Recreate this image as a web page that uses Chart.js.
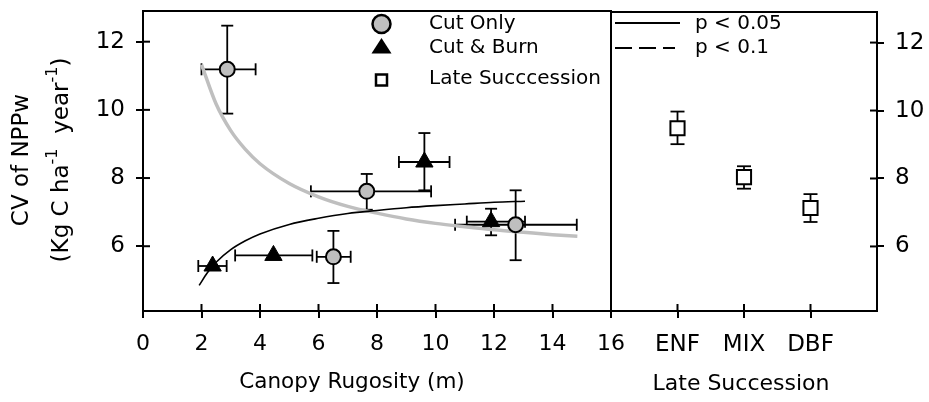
<!DOCTYPE html>
<html>
<head>
<meta charset="utf-8">
<script src="https://cdn.jsdelivr.net/npm/chart.js@4.4.1/dist/chart.umd.min.js"></script>
<style>
  body { margin: 0; background: #fff; }
  #wrap { position: relative; width: 929px; height: 402px; }
  canvas { position: absolute; left: 0; top: 0; }
</style>
</head>
<body>
<div id="wrap">
  <canvas id="rugChart" width="929" height="402"></canvas>
  <canvas id="lateChart" width="929" height="402"></canvas>
</div>
<script>
// ================= DATA =================

// Cut Only (grey circles)
const cutX = [2.88, 7.65, 6.51, 12.74];
const cutY = [11.19, 7.61, 5.69, 6.63];
const cutXLo = [2.0, 5.74, 5.94, 10.67];
const cutXHi = [3.85, 9.85, 7.10, 14.83];
const cutYLo = [9.89, 7.07, 4.92, 5.59];
const cutYHi = [12.47, 8.12, 6.45, 7.64];

// Cut & Burn (black triangles)
const burnX = [2.38, 4.46, 9.62, 11.90];
const burnY = [5.42, 5.73, 8.47, 6.72];
const burnXLo = [1.89, 3.15, 8.75, 11.07];
const burnXHi = [2.86, 5.79, 10.48, 13.06];
const burnYLo = [5.42, 5.73, 7.64, 6.32];
const burnYHi = [5.42, 5.73, 9.32, 7.10];

// Late Succession (open squares)
const lateCats = ["ENF", "MIX", "DBF"];
const lateY = [9.48, 8.04, 7.13];
const lateLo = [9.01, 7.70, 6.72];
const lateHi = [9.97, 8.36, 7.54];

// fitted curves
const cutFitX = [2, 2.5, 3, 3.5, 4, 5, 6, 7, 8, 9, 10, 11, 12, 13, 14, 14.85];
const cutFitY = [11.33, 10.17, 9.39, 8.84, 8.42, 7.84, 7.45, 7.17, 6.97, 6.80, 6.67, 6.57, 6.48, 6.41, 6.34, 6.29];
const burnFitX = [1.92, 2.2, 2.5, 3, 3.5, 4, 5, 6, 7, 8, 9, 10, 11, 12, 13.06];
const burnFitY = [4.85, 5.22, 5.53, 5.90, 6.16, 6.36, 6.64, 6.82, 6.96, 7.05, 7.13, 7.19, 7.24, 7.29, 7.32];

// axes
const xTicks = [0, 2, 4, 6, 8, 10, 12, 14, 16];
const yTicks = [6, 8, 10, 12];
const yMin = 4.1, yMax = 12.9;

// ================= HELPERS =================

const FONT = "'DejaVu Sans', Verdana, sans-serif";
Chart.defaults.font.family = FONT;
Chart.defaults.color = "#000";

const zip = (xs, ys) => xs.map((x, i) => ({ x: x, y: ys[i] }));
const GREY = "#bfbfbf";

function line(ctx, x1, y1, x2, y2) {
  ctx.beginPath();
  ctx.moveTo(x1, y1);
  ctx.lineTo(x2, y2);
  ctx.stroke();
}

// fixed axis box sizes, no extra label padding
function fixBox(w, h) {
  return s => {
    if (w) s.width = w;
    if (h) s.height = h;
    s.paddingTop = 0; s.paddingBottom = 0;
    s.paddingLeft = 0; s.paddingRight = 0;
  };
}

// error bars with caps, drawn through the chart scales
function drawErrors(chart, xs, ys, xlo, xhi, ylo, yhi, cap) {
  const ctx = chart.ctx, sx = chart.scales.x, sy = chart.scales.y;
  ctx.save();
  ctx.strokeStyle = "#000";
  ctx.lineWidth = 1.8;
  xs.forEach((x, i) => {
    const px = sx.getPixelForValue(x), py = sy.getPixelForValue(ys[i]);
    if (xlo && xlo[i] !== xhi[i]) {
      const a = sx.getPixelForValue(xlo[i]), b = sx.getPixelForValue(xhi[i]);
      line(ctx, a, py, b, py);
      line(ctx, a, py - cap, a, py + cap);
      line(ctx, b, py - cap, b, py + cap);
    }
    if (ylo[i] !== yhi[i]) {
      const a = sy.getPixelForValue(ylo[i]), b = sy.getPixelForValue(yhi[i]);
      line(ctx, px, a, px, b);
      line(ctx, px - cap, a, px + cap, a);
      line(ctx, px - cap, b, px + cap, b);
    }
  });
  ctx.restore();
}

// frame + ticks that cross the axis line
function drawFrame(chart) {
  const ctx = chart.ctx, a = chart.chartArea;
  ctx.save();
  ctx.strokeStyle = "#000";
  ctx.lineWidth = 2;
  ctx.strokeRect(a.left, a.top, a.right - a.left, a.bottom - a.top);
  Object.values(chart.scales).forEach(s => {
    if (!s.options.display) return;
    s.ticks.forEach(t => {
      const p = s.getPixelForValue(t.value);
      if (s.position === "bottom") line(ctx, p, a.bottom, p, a.bottom - 7);
      else if (s.position === "left") line(ctx, a.left, p, a.left + 7, p);
      else line(ctx, a.right, p, a.right - 7, p);
    });
  });
  ctx.restore();
}

function richText(ctx, parts, cx, cy, size) {
  const small = Math.round(size * 0.68);
  let w = 0;
  parts.forEach(p => {
    ctx.font = (p.sup ? small : size) + "px " + FONT;
    p.w = ctx.measureText(p.t).width;
    w += p.w;
  });
  let x = cx - w / 2;
  ctx.textAlign = "left";
  ctx.textBaseline = "middle";
  parts.forEach(p => {
    ctx.font = (p.sup ? small : size) + "px " + FONT;
    ctx.fillText(p.t, x, p.sup ? cy - size * 0.38 : cy);
    x += p.w;
  });
}

function marker(ctx, style, x, y) {
  ctx.save();
  ctx.strokeStyle = "#000";
  ctx.beginPath();
  if (style === "circle") {
    ctx.arc(x, y, 9, 0, Math.PI * 2);
    ctx.fillStyle = GREY; ctx.lineWidth = 2.5;
    ctx.fill(); ctx.stroke();
  } else if (style === "triangle") {
    ctx.moveTo(x, y - 8); ctx.lineTo(x + 10, y + 7.5); ctx.lineTo(x - 10, y + 7.5);
    ctx.closePath(); ctx.fillStyle = "#000"; ctx.fill();
  } else {
    ctx.rect(x - 5.5, y - 5.5, 11, 11);
    ctx.fillStyle = "#fff"; ctx.lineWidth = 2.5;
    ctx.fill(); ctx.stroke();
  }
  ctx.restore();
}

// ================= LEFT PANEL: RUGOSITY =================

const rugPlugin = {
  id: "rug",
  beforeDatasetsDraw(chart) {
    drawErrors(chart, cutX, cutY, cutXLo, cutXHi, cutYLo, cutYHi, 6);
    drawErrors(chart, burnX, burnY, burnXLo, burnXHi, burnYLo, burnYHi, 6);
  },
  afterDraw(chart) {
    const ctx = chart.ctx;
    drawFrame(chart);
    ctx.save();
    ctx.fillStyle = "#000";
    // x title
    ctx.font = "21.5px " + FONT;
    ctx.textAlign = "center";
    ctx.textBaseline = "middle";
    ctx.fillText("Canopy Rugosity (m)", 352, 382);
    // y title
    ctx.save();
    ctx.translate(22, 160);
    ctx.rotate(-Math.PI / 2);
    ctx.font = "23px " + FONT;
    ctx.fillText("CV of NPPw", 0, 0);
    ctx.restore();
    ctx.save();
    ctx.translate(62, 160);
    ctx.rotate(-Math.PI / 2);
    richText(ctx, [{ t: "(Kg C ha" }, { t: "-1", sup: true }, { t: "  year" }, { t: "-1", sup: true }, { t: ")" }], 0, 0, 23);
    ctx.restore();
    // legend
    const rows = [["circle", "Cut Only", 24, 24], ["triangle", "Cut & Burn", 46, 48], ["rect", "Late Succcession", 80, 79]];
    ctx.font = "20px " + FONT;
    ctx.textAlign = "left";
    ctx.textBaseline = "middle";
    rows.forEach(r => {
      marker(ctx, r[0], 381.5, r[2]);
      ctx.fillText(r[1], 429, r[3]);
    });
    ctx.restore();
  }
};

new Chart(document.getElementById("rugChart"), {
  type: "scatter",
  data: {
    datasets: [
      {
        data: zip(cutX, cutY),
        pointStyle: "circle", pointRadius: 7.5,
        backgroundColor: GREY, borderColor: "#000", borderWidth: 2,
        order: 1
      },
      {
        data: zip(burnX, burnY),
        pointStyle: "triangle", pointRadius: 10,
        backgroundColor: "#000", borderColor: "#000", borderWidth: 1,
        order: 2
      },
      {
        data: zip(cutFitX, cutFitY),
        showLine: true, pointRadius: 0,
        borderColor: GREY, borderWidth: 3.5,
        cubicInterpolationMode: "monotone",
        order: 4
      },
      {
        data: zip(burnFitX, burnFitY),
        showLine: true, pointRadius: 0,
        borderColor: "#000", borderWidth: 1.6,
        cubicInterpolationMode: "monotone",
        order: 3
      }
    ]
  },
  options: {
    responsive: false,
    animation: false,
    layout: { padding: { top: 6, right: 318, left: 0, bottom: 0 } },
    plugins: { legend: { display: false }, tooltip: { enabled: false } },
    scales: {
      x: {
        type: "linear", min: 0, max: 16,
        afterBuildTicks: s => { s.ticks = xTicks.map(v => ({ value: v })); },
        afterFit: fixBox(0, 91),
        ticks: { font: { size: 22 }, padding: 13, maxRotation: 0 },
        grid: { drawOnChartArea: false, tickLength: 7, color: "#000", lineWidth: 2 },
        border: { color: "#000", width: 2 }
      },
      y: {
        type: "linear", min: yMin, max: yMax,
        afterBuildTicks: s => { s.ticks = yTicks.map(v => ({ value: v })); },
        afterFit: fixBox(143, 0),
        ticks: { font: { size: 23 }, padding: 11 },
        grid: { drawOnChartArea: false, tickLength: 7, color: "#000", lineWidth: 2 },
        border: { color: "#000", width: 2 }
      }
    }
  },
  plugins: [rugPlugin]
});

// ================= RIGHT PANEL: LATE SUCCESSION =================

const latePlugin = {
  id: "late",
  beforeDatasetsDraw(chart) {
    drawErrors(chart, lateCats.map((c, i) => i + 1), lateY, null, null, lateLo, lateHi, 7);
  },
  afterDraw(chart) {
    const ctx = chart.ctx;
    drawFrame(chart);
    ctx.save();
    ctx.fillStyle = "#000";
    ctx.strokeStyle = "#000";
    ctx.font = "22px " + FONT;
    ctx.textAlign = "center";
    ctx.textBaseline = "middle";
    ctx.fillText("Late Succession", 741, 384);
    // significance legend
    ctx.lineWidth = 2;
    line(ctx, 615, 23, 680, 23);
    ctx.setLineDash([17, 7]);
    line(ctx, 615, 48, 675, 48);
    ctx.setLineDash([]);
    ctx.font = "20px " + FONT;
    ctx.textAlign = "left";
    ctx.fillText("p < 0.05", 695, 24);
    ctx.fillText("p < 0.1", 695, 48);
    ctx.restore();
  }
};

new Chart(document.getElementById("lateChart"), {
  type: "scatter",
  data: {
    datasets: [{
      data: lateCats.map((c, i) => ({ x: i + 1, y: lateY[i] })),
      pointStyle: "rect", pointRadius: 10,
      backgroundColor: "#fff", borderColor: "#000", borderWidth: 2
    }]
  },
  options: {
    responsive: false,
    animation: false,
    layout: { padding: { top: 6, right: 0, left: 611, bottom: 0 } },
    plugins: { legend: { display: false }, tooltip: { enabled: false } },
    scales: {
      x: {
        type: "linear", min: 0, max: 4,
        afterBuildTicks: s => { s.ticks = lateCats.map((c, i) => ({ value: i + 1 })); },
        afterFit: fixBox(0, 91),
        ticks: { font: { size: 23 }, padding: 13, callback: v => lateCats[v - 1] },
        grid: { drawOnChartArea: false, tickLength: 7, color: "#000", lineWidth: 2 },
        border: { color: "#000", width: 2 }
      },
      y: {
        type: "linear", position: "right", min: yMin, max: yMax,
        afterBuildTicks: s => { s.ticks = yTicks.map(v => ({ value: v })); },
        afterFit: fixBox(52, 0),
        ticks: { font: { size: 23 }, padding: 11 },
        grid: { drawOnChartArea: false, tickLength: 7, color: "#000", lineWidth: 2 },
        border: { color: "#000", width: 2 }
      }
    }
  },
  plugins: [latePlugin]
});
</script>
</body>
</html>
